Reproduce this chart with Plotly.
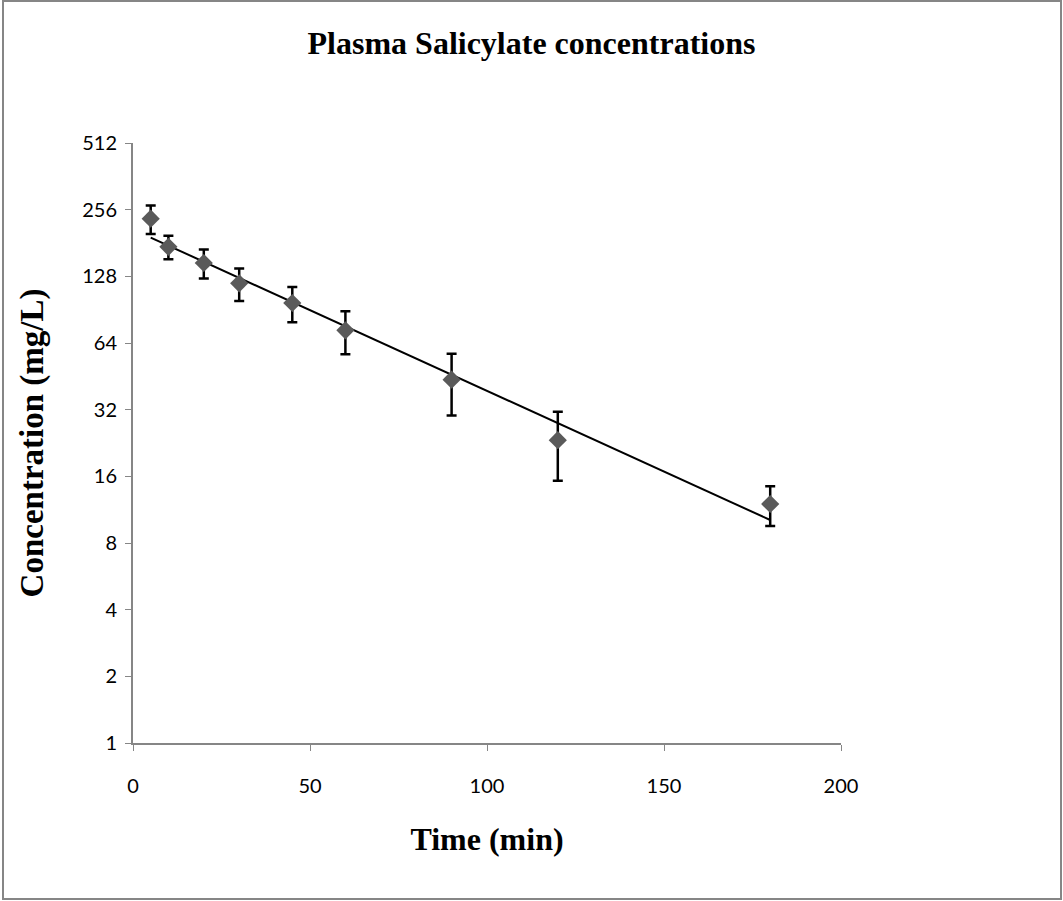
import numpy as np
import plotly.graph_objects as go

time_min = [5, 10, 20, 30, 45, 60, 90, 120, 180]
conc = [233, 174, 147, 119, 97, 73, 43.7, 23.3, 12.0]
conc_err = [34, 21, 22, 20, 17.5, 16, 13.6, 8, 2.45]
y_ticks = [1, 2, 4, 8, 16, 32, 64, 128, 256, 512]
x_ticks = [0, 50, 100, 150, 200]

W, H = 1063, 901
L, R, T, B = 133, 841, 143, 743

# exponential trendline (least squares on log values)
k, c = np.polyfit(time_min, np.log(conc), 1)
tx = np.array([min(time_min), max(time_min)])
ty = np.exp(c + k * tx)

fig = go.Figure()
fig.add_trace(go.Scatter(x=tx, y=ty, mode="lines",
                         line=dict(color="black", width=2), showlegend=False,
                         hoverinfo="skip"))
fig.add_trace(go.Scatter(
    x=time_min, y=conc, mode="markers",
    marker=dict(symbol="diamond", size=14, color="#5a5a5a"),
    error_y=dict(type="data", array=conc_err, visible=True, color="black",
                 thickness=2.5, width=5),
    showlegend=False))

tick_font = dict(family="Lato, Open Sans, sans-serif", size=20, color="black")
fig.update_xaxes(range=[0, 200], tickvals=x_ticks, ticks="outside", ticklen=6,
                 tickcolor="#868686", showline=True, linecolor="#868686",
                 linewidth=2, showgrid=False, zeroline=False, tickfont=tick_font,
                 ticklabelstandoff=18,
                 title=dict(text="<b>Time (min)</b>",
                            font=dict(family="Liberation Serif", size=32,
                                      color="black"), standoff=32))
fig.update_yaxes(type="log", range=[0, np.log10(512)], tickvals=y_ticks,
                 ticktext=[str(v) for v in y_ticks], ticks="outside", ticklen=6,
                 tickcolor="#868686", showline=True, linecolor="#868686",
                 linewidth=2, showgrid=False, zeroline=False, tickfont=tick_font,
                 ticklabelstandoff=4,
                 title=dict(text="<b>Concentration (mg/L)</b>",
                            font=dict(family="Liberation Serif", size=33,
                                      color="black"), standoff=29))

pw, ph = R - L, B - T
def px_to_paper_x(p):
    return (p - L) / pw
def px_to_paper_y(p):
    return (B - p) / ph

fig.add_shape(type="rect", xref="paper", yref="paper",
              x0=px_to_paper_x(3), x1=px_to_paper_x(1061),
              y0=px_to_paper_y(899), y1=px_to_paper_y(1),
              line=dict(color="#868686", width=2), layer="below")

fig.update_layout(
    width=W, height=H,
    margin=dict(l=L, r=W - R, t=T, b=H - B),
    paper_bgcolor="white", plot_bgcolor="white",
    title=dict(text="<b>Plasma Salicylate concentrations</b>",
               font=dict(family="Liberation Serif", size=32, color="black"),
               x=0.5, xanchor="center", y=1 - 43 / H, yanchor="middle"),
)
fig.write_html("out.html")
